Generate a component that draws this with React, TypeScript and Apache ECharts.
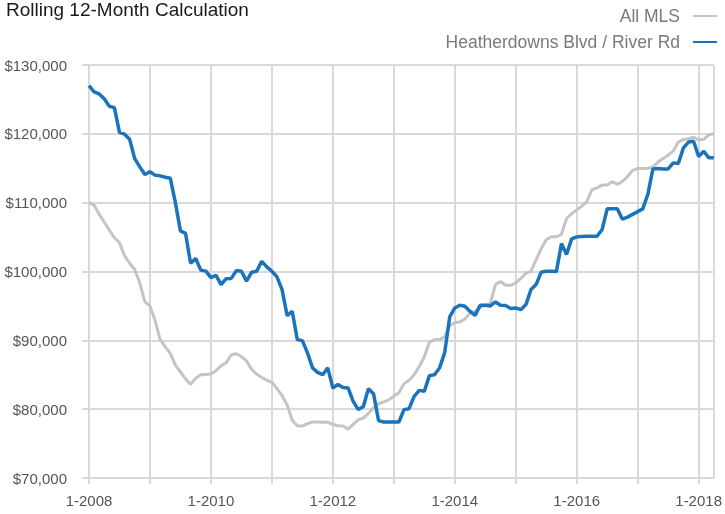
import React, { useEffect, useRef } from "react";
import * as echarts from "echarts";

const FONT = "'Liberation Sans', Arial, Helvetica, sans-serif";

const firstYear = 2008;
const monthCount = 124;
const months: string[] = [];
for (let i = 0; i < monthCount; i++) {
  months.push(`${(i % 12) + 1}-${firstYear + Math.floor(i / 12)}`);
}

const seriesNames = ["All MLS", "Heatherdowns Blvd / River Rd"];

const allMLS = [
  110000, 109650, 108300, 107200, 106000, 104900, 104200, 102300, 101200, 100300, 98300, 95600,
  95000, 92900, 90100, 89100, 88100, 86400, 85400, 84400, 83600, 84500, 85000, 85050,
  85100, 85600, 86300, 86750, 87900, 88050, 87650, 87000, 85800, 85100, 84600, 84200,
  83900, 83000, 81950, 80600, 78400, 77600, 77550, 77900, 78140, 78140, 78100, 78100,
  77800, 77600, 77550, 77100, 77800, 78450, 78700, 79400, 80150, 80800, 81050, 81350,
  81900, 82400, 83700, 84200, 85000, 86200, 87600, 89700, 90100, 90150, 90500, 92100,
  92600, 92650, 93100, 93950, 94250, 94800, 95100, 95400, 98100, 98550, 98000, 98000,
  98350, 99000, 99750, 100030, 101700, 103300, 104600, 105050, 105050, 105400, 107700, 108400,
  108950, 109500, 110160, 111900, 112150, 112550, 112550, 113050, 112650, 113100, 113800, 114700,
  114960, 114960, 114960, 115200, 115900, 116400, 116900, 117500, 118800, 119150, 119300, 119500,
  119100, 119200, 119850, 120000,
];

const heatherdowns = [
  127000, 126100, 125800, 125100, 124000, 123800, 120200, 119950, 119200, 116400, 115200, 114100,
  114500, 114000, 113900, 113700, 113550, 110000, 105900, 105550, 101200, 101900, 100200, 100050,
  99100, 99450, 98100, 98950, 99000, 100130, 100030, 98600, 99880, 100030, 101480, 100670,
  100030, 99210, 97370, 93590, 94220, 90100, 89960, 88170, 85990, 85350, 85010, 86000,
  83080, 83600, 83150, 83080, 81130, 79930, 80400, 82980, 82250, 78330, 78140, 78140,
  78140, 78140, 79930, 80070, 81860, 82730, 82590, 84870, 85010, 85990, 88170, 93400,
  94700, 95100, 94940, 94200, 93630, 95090, 95090, 94990, 95580, 95090, 95050, 94610,
  94710, 94460, 95190, 97370, 98100, 99900, 100030, 100030, 99990, 104060, 102460, 104740,
  105030, 105100, 105120, 105120, 105120, 106100, 109100, 109100, 109100, 107600, 107900, 108300,
  108700, 109100, 111200, 114900, 114960, 114900, 114900, 115780, 115700, 117960, 118800, 118930,
  116700, 117470, 116510, 116510,
];

const yMin = 70000;
const yMax = 130000;
const yStep = 10000;

export default function App() {
  const ref = useRef<HTMLDivElement>(null);

  useEffect(() => {
    if (!ref.current) return;
    const chart = echarts.init(ref.current, null, { renderer: "svg" });
    const grid = "#d9d9d9";
    chart.setOption({
      animation: false,
      title: {
        text: "Rolling 12-Month Calculation",
        left: 6,
        top: 0,
        padding: 0,
        textStyle: { fontFamily: FONT, fontSize: 19, fontWeight: "normal", color: "#1a1a1a" },
      },
      legend: {
        orient: "vertical",
        right: 3,
        top: 2,
        align: "right",
        icon: "rect",
        itemWidth: 24,
        itemHeight: 2,
        itemGap: 8,
        data: seriesNames,
        textStyle: {
          fontFamily: FONT,
          fontSize: 17.5,
          lineHeight: 18,
          color: "#7a7a7a",
          padding: [0, 8, 0, 0],
        },
      },
      grid: { left: 89, right: 9, top: 65, bottom: 36 },
      xAxis: {
        type: "category",
        data: months,
        boundaryGap: false,
        axisLine: { lineStyle: { color: grid, width: 2 } },
        axisTick: {
          interval: (i: number) => i % 12 === 0,
          length: 6,
          lineStyle: { color: grid, width: 2 },
        },
        axisLabel: {
          interval: (i: number) => i % 24 === 0,
          margin: 15,
          fontFamily: FONT,
          fontSize: 15,
          color: "#555",
        },
        splitLine: {
          show: true,
          interval: (i: number) => i % 12 === 0 || i === monthCount - 1,
          lineStyle: { color: grid, width: 2 },
        },
      },
      yAxis: {
        type: "value",
        min: yMin,
        max: yMax,
        interval: yStep,
        axisLine: { show: false },
        axisTick: { show: true, length: 7, lineStyle: { color: grid, width: 2 } },
        axisLabel: {
          margin: 22,
          fontFamily: FONT,
          fontSize: 15,
          color: "#555",
          formatter: (v: number) => "$" + v.toLocaleString("en-US"),
        },
        splitLine: { lineStyle: { color: grid, width: 2 } },
      },
      series: [
        {
          name: seriesNames[0],
          type: "line",
          data: allMLS,
          symbol: "none",
          lineStyle: { color: "#c4c4c4", width: 3 },
          itemStyle: { color: "#c4c4c4" },
          z: 2,
        },
        {
          name: seriesNames[1],
          type: "line",
          data: heatherdowns,
          symbol: "none",
          lineStyle: { color: "#1b74bb", width: 3.5 },
          itemStyle: { color: "#1b74bb" },
          z: 3,
        },
      ],
    });
    return () => chart.dispose();
  }, []);

  return (
    <div
      ref={ref}
      style={{ position: "fixed", left: 0, top: 0, width: 725, height: 514 }}
    />
  );
}
